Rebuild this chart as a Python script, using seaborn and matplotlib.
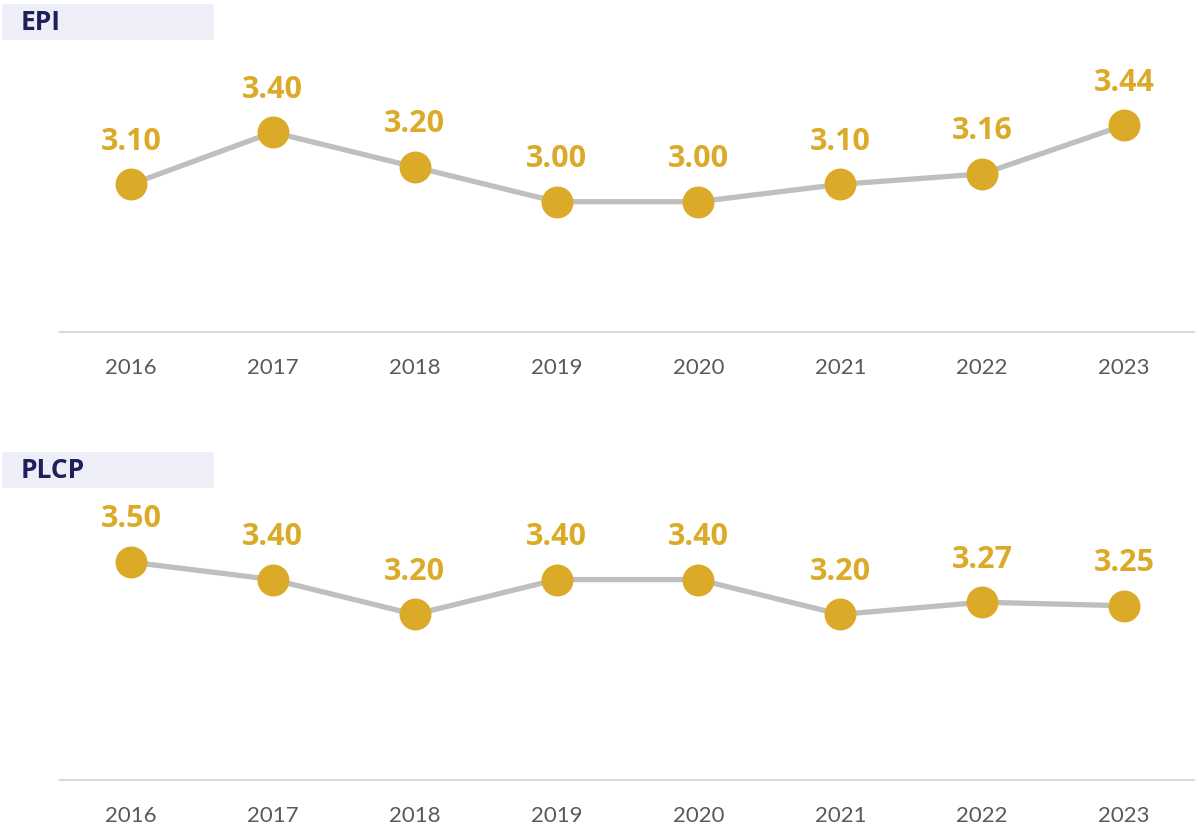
import matplotlib
matplotlib.use("Agg")
import matplotlib.pyplot as plt
import seaborn as sns
import pandas as pd
import numpy as np
from matplotlib.patches import Rectangle

years = ["2016", "2017", "2018", "2019", "2020", "2021", "2022", "2023"]
epi = [3.10, 3.40, 3.20, 3.00, 3.00, 3.10, 3.16, 3.44]
plcp = [3.50, 3.40, 3.20, 3.40, 3.40, 3.20, 3.27, 3.25]
panel_titles = ["EPI", "PLCP"]

sns.set_theme(style="white")
plt.rcParams['font.family'] = ['Lato', 'DejaVu Sans']
BOLD_FAMILY = ['Open Sans', 'Noto Sans', 'DejaVu Sans']

GOLD = "#DBAA28"
GRAY = "#BFBFBF"
NAVY = "#1F1F5C"

W, H = 1195, 832
fig = plt.figure(figsize=(W / 100, H / 100), dpi=100)

def fx(px):
    return px / W

def fy(py):
    return 1 - py / H

panels = [
    (epi, 28, 332, 4, 40),
    (plcp, 475, 780, 452, 488),
]

for (vals, top, bot, btop, bbot), title in zip(panels, panel_titles):
    ax = fig.add_axes([fx(60), fy(bot), 1 - fx(60), (bot - top) / H])
    df = pd.DataFrame({"x": np.arange(len(years)), "v": vals})
    sns.lineplot(data=df, x="x", y="v", ax=ax, color=GRAY, linewidth=3.8,
                 marker="o", markersize=23, markerfacecolor=GOLD,
                 markeredgecolor=GOLD, markeredgewidth=0)
    ax.set_xlim(-0.5, len(years) - 0.5)
    ax.set_ylim(2.25, 4.0)
    ax.set_xticks(np.arange(len(years)))
    ax.set_xticklabels(years, fontsize=16, color="#595959")
    ax.tick_params(axis="x", length=0, pad=19)
    ax.set_yticks([])
    ax.set_xlabel("")
    ax.set_ylabel("")
    for s in ["top", "left", "right"]:
        ax.spines[s].set_visible(False)
    ax.spines["bottom"].set_color("#D9D9D9")
    ax.spines["bottom"].set_linewidth(1.5)
    ax.patch.set_alpha(0)
    for i, v in enumerate(vals):
        ax.annotate(f"{v:.2f}", (i, v), xytext=(0, 25), textcoords="offset points",
                    ha="center", va="baseline", fontsize=22, fontweight="bold",
                    color=GOLD, family=BOLD_FAMILY)
    fig.patches.append(Rectangle((fx(2), fy(bbot)), fx(212), (bbot - btop) / H,
                                 transform=fig.transFigure, facecolor="#EEEEF8",
                                 edgecolor="none", zorder=0))
    fig.text(fx(21), fy((btop + bbot) / 2), title, ha="left", va="center",
             fontsize=19, fontweight="bold", color=NAVY, family=BOLD_FAMILY)

fig.savefig("out.png", dpi=100)
